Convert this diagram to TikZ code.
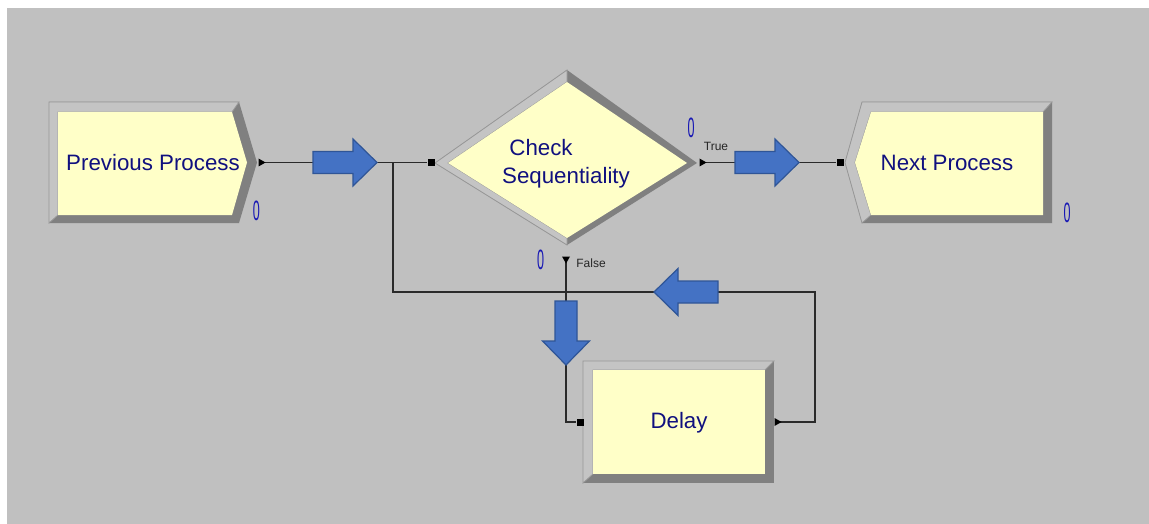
\documentclass[tikz,border=0pt]{standalone}
\usepackage{fontspec}
\setmainfont{Liberation Sans}
\definecolor{canvas}{HTML}{C0C0C0}
\definecolor{facefill}{HTML}{FFFFC8}
\definecolor{bevdark}{HTML}{808080}
\definecolor{bevlight}{HTML}{C4C4C4}
\definecolor{bevline}{HTML}{979797}
\definecolor{lbl}{HTML}{10107F}
\definecolor{cnt}{HTML}{1818B4}
\definecolor{flow}{HTML}{4472C4}
\definecolor{flowedge}{HTML}{2F5597}
\definecolor{wirecol}{HTML}{2A2A2A}

% big blue flow arrow: centre x, centre y, direction angle
\newcommand{\flowarrow}[3]{%
  \draw[flowbody, shift={(#1,#2)}, rotate=#3]
    (-32,-11) -- (8,-11) -- (8,-23.5) -- (32,0) -- (8,23.5) -- (8,11) -- (-32,11) -- cycle;}

\begin{document}
\begin{tikzpicture}[x=1pt,y=-1pt,
  dark/.style={fill=bevdark},
  light/.style={fill=bevlight, draw=bevline, line width=0.8pt, line join=miter},
  face/.style={fill=facefill},
  modname/.style={text=lbl, font=\fontsize{22.3}{26}\selectfont, inner sep=0},
  counter/.style={text=cnt, font=\fontsize{28}{30}\selectfont, inner sep=0},
  branch/.style={text=black!85, font=\fontsize{12}{14}\selectfont, inner sep=0},
  wire/.style={draw=wirecol, line width=1.3pt},
  entryport/.style={rectangle, fill=black, inner sep=0, minimum size=7pt},
  flowbody/.style={fill=flow, draw=flowedge, line width=1.2pt, line join=miter}
]
\useasboundingbox (0,0) rectangle (1149,524);
\fill[white] (0,0) rectangle (1149,524);
\fill[canvas] (7,8) rectangle (1149,524);

% ---- Previous Process (create module) ----
\fill[dark] (49,102) -- (239,102) -- (257,162.5) -- (239,223) -- (49,223) -- cycle;
\path[light] (49,223) -- (49,102) -- (239,102) -- (232,112) -- (58,112) -- (58,215) -- cycle;
\fill[face] (58,112) -- (232,112) -- (247,162.5) -- (232,215) -- (58,215) -- cycle;
\node[modname] (prevName) at (153,162.5) {Previous Process};
\node[counter] (prevCount) at (256.5,211) {\scalebox{0.45}[1]{0}};

% ---- Check Sequentiality (decide module) ----
\fill[dark] (567,70) -- (697,163) -- (567,245) -- (435,163) -- cycle;
\path[light] (567,70) -- (435,163) -- (567,245) -- (567,238) -- (448,163) -- (567,82) -- cycle;
\fill[face] (567,82) -- (687,163) -- (567,238) -- (448,163) -- cycle;
\node[modname] (chkTop) at (541,148) {Check};
\node[modname] (chkBot) at (566,178) {Sequentiality};
\node[counter] (trueCount) at (691,128) {\scalebox{0.45}[1]{0}};
\node[counter] (falseCount) at (540.5,260) {\scalebox{0.45}[1]{0}};
\node[branch] (trueLbl) at (716,146) {True};
\node[branch] (falseLbl) at (591,263) {False};

% ---- Next Process (dispose module) ----
\fill[dark] (845,162.5) -- (862,102) -- (1052,102) -- (1052,223) -- (862,223) -- cycle;
\path[light] (862,223) -- (845,162.5) -- (862,102) -- (1052,102) -- (1043,112) -- (871,112) -- (855,162.5) -- (871,215) -- cycle;
\fill[face] (855,162.5) -- (871,112) -- (1043,112) -- (1043,215) -- (871,215) -- cycle;
\node[modname] (nextName) at (947,162.5) {Next Process};
\node[counter] (nextCount) at (1067,213) {\scalebox{0.45}[1]{0}};

% ---- Delay (process module) ----
\fill[dark] (583,361) rectangle (774,483);
\path[light] (583,483) -- (583,361) -- (774,361) -- (765,370) -- (593,370) -- (593,474) -- cycle;
\fill[face] (593,370) rectangle (765,474);
\node[modname] (delayName) at (679,423) {Delay};

% ---- ports ----
\coordinate (prevOut) at (262,162.5);
\coordinate (trueOut) at (703,162.5);
\coordinate (falseOut) at (566,260);
\coordinate (delayOut) at (778,422);
\node[entryport] (decideIn) at (431,162.5) {};
\node[entryport] (nextIn) at (840,162.5) {};
\node[entryport] (delayIn) at (580,422) {};
\coordinate (merge) at (393,162.5);
\coordinate (loopTurn) at (815,292);

% ---- connectors ----
\draw[wire] (prevOut) -- (decideIn);
\draw[wire] (trueOut) -- (nextIn);
\draw[wire] (falseOut) |- (delayIn);
\draw[wire] (delayOut) -| (loopTurn) -| (merge);

% exit markers
\fill (prevOut) ++(-3.5,-4) -- ++(7,4) -- ++(-7,4) -- cycle;
\fill (trueOut) ++(-3.5,-4) -- ++(7,4) -- ++(-7,4) -- cycle;
\fill (delayOut) ++(-3.5,-4) -- ++(7,4) -- ++(-7,4) -- cycle;
\fill (falseOut) ++(-4,-3.5) -- ++(8,0) -- ++(-4,7) -- cycle;

% ---- flow arrows ----
\flowarrow{345}{162.5}{0}
\flowarrow{767}{162.5}{0}
\flowarrow{566}{333}{-90}
\flowarrow{686}{292}{180}
\end{tikzpicture}
\end{document}
